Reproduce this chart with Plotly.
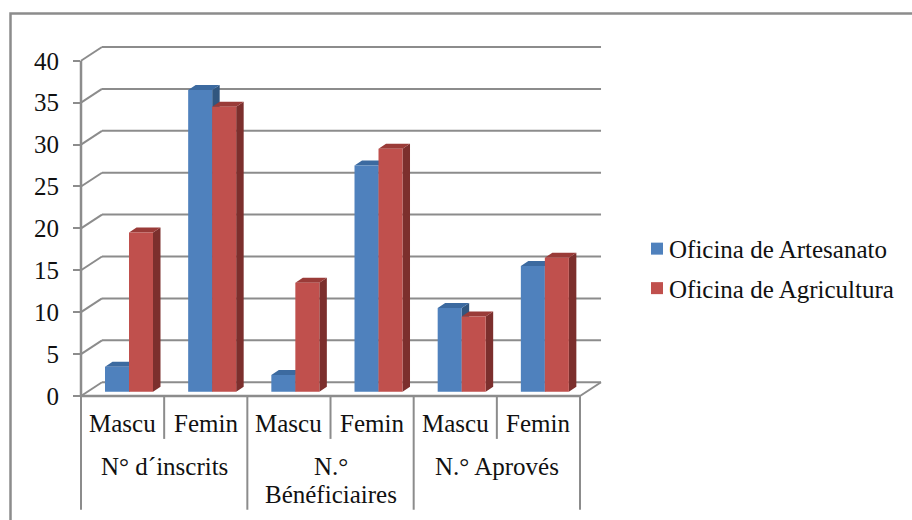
import plotly.graph_objects as go

# ---- data ----
groups = ["N° d´inscrits", "N.°<br>Bénéficiaires", "N.° Aprovés"]
subcats = ["Mascu", "Femin", "Mascu", "Femin", "Mascu", "Femin"]
artesanato = [3, 36, 2, 27, 10, 15]
agricultura = [19, 34, 13, 29, 9, 16]
y_ticks = [0, 5, 10, 15, 20, 25, 30, 35, 40]

# ---- geometry (pixels of the 912x520 frame) ----
W, H = 912, 520
L, R, B, T = 81.0, 602.0, 396.5, 46.7
CAT_PX, UNIT_PX = 83.17, 8.4
x_max = (R - L) / CAT_PX
y_max = (B - T) / UNIT_PX
n = len(subcats)
WALL_DX, WALL_DY = 21 / CAT_PX, 13.8 / UNIT_PX       # depth of chart box
BAR_DX, BAR_DY = 7.5 / CAT_PX, 5 / UNIT_PX           # depth of a bar
BAR_W = 24 / CAT_PX
BAR_X0 = 24 / CAT_PX
BAR_BASE = 4.2 / UNIT_PX

GRAY = "#8c8c8c"
FONT = "Liberation Serif"
FS = 25


def px(v):
    return (v - L) / (R - L)


def py(v):
    return (B - v) / (B - T)


def fx(v):
    return v / x_max


def fy(v):
    return v / y_max


def seg(x0, y0, x1, y1, width=2):
    return dict(type="line", xref="paper", yref="paper", x0=x0, y0=y0, x1=x1, y1=y1,
                line=dict(color=GRAY, width=width), layer="below")


shapes = [dict(type="rect", xref="paper", yref="paper", x0=px(10.5), y0=py(540), x1=px(940), y1=py(13),
               line=dict(color=GRAY, width=2.5), layer="below")]
# horizontal grid on the wall with slanted side wall, from the tick values
for t in y_ticks:
    shapes.append(seg(fx(0), fy(t), fx(WALL_DX), fy(t + WALL_DY)))
    shapes.append(seg(fx(WALL_DX), fy(t + WALL_DY), fx(n + WALL_DX), fy(t + WALL_DY)))
# axis lines and floor
shapes.append(seg(fx(0), fy(0), fx(0), fy(y_ticks[-1]), 2.5))
shapes.append(seg(fx(0), fy(0), fx(n), fy(0), 2.5))
shapes.append(seg(fx(n), fy(0), fx(n + WALL_DX), fy(WALL_DY)))
# multi-level category dividers
for i in range(n + 1):
    if i % 2 == 0:
        shapes.append(seg(fx(i), fy(0), fx(i), py(510.5), 2))
    else:
        shapes.append(seg(fx(i), fy(0), fx(i), py(439.5), 2))


def polys(series, offset, kind):
    xs, ys = [], []
    for i, v in enumerate(series):
        x0 = i + BAR_X0 + offset * BAR_W
        x1 = x0 + BAR_W
        b, t = BAR_BASE, BAR_BASE + v
        if kind == "front":
            px_, py_ = [x0, x1, x1, x0, x0], [b, b, t, t, b]
        elif kind == "top":
            px_ = [x0, x1, x1 + BAR_DX, x0 + BAR_DX, x0]
            py_ = [t, t, t + BAR_DY, t + BAR_DY, t]
        else:
            px_ = [x1, x1 + BAR_DX, x1 + BAR_DX, x1, x1]
            py_ = [b, b + BAR_DY, t + BAR_DY, t, b]
        xs += px_ + [None]
        ys += py_ + [None]
    return xs, ys


fig = go.Figure()
series = [("Oficina de Artesanato", artesanato, 0, "#4F81BD", "#3C6AA0", "#31567F"),
          ("Oficina de Agricultura", agricultura, 1, "#C0504D", "#9A3B38", "#7C2F2D")]
for name, vals, off, front, top, side in series:
    for kind, col in (("side", side), ("top", top), ("front", front)):
        xs, ys = polys(vals, off, kind)
        fig.add_trace(go.Scatter(x=xs, y=ys, mode="lines", fill="toself", fillcolor=col,
                                 line=dict(width=0, color=col), showlegend=False,
                                 hoverinfo="skip", cliponaxis=False))
    fig.add_trace(go.Scatter(x=[None], y=[None], mode="markers", name=name, legendgroup=name,
                             marker=dict(symbol="square", size=12, color=front)))

annotations = []
for i, s in enumerate(subcats):
    annotations.append(dict(xref="paper", yref="paper", x=fx(i + 0.5), y=py(424), text=s, showarrow=False,
                            xanchor="center", yanchor="middle", font=dict(family=FONT, size=FS, color="#111")))
for i, g in enumerate(groups):
    for k, line in enumerate(g.split("<br>")):
        annotations.append(dict(xref="paper", yref="paper", x=fx(2 * i + 1), y=py(467 + 28 * k), text=line,
                                showarrow=False, xanchor="center", yanchor="middle",
                                font=dict(family=FONT, size=FS, color="#111")))

fig.update_layout(
    width=W, height=H, autosize=False,
    margin=dict(l=L, r=W - R, t=T, b=H - B, pad=0),
    paper_bgcolor="white", plot_bgcolor="white",
    shapes=shapes, annotations=annotations,
    xaxis=dict(range=[0, x_max], visible=False, fixedrange=True),
    yaxis=dict(range=[0, y_max], tickmode="array", tickvals=y_ticks, ticktext=[str(t) for t in y_ticks],
               ticks="outside", ticklen=7, tickwidth=2, tickcolor=GRAY, showgrid=False, zeroline=False,
               showline=False, ticklabelstandoff=9, tickfont=dict(family=FONT, size=FS, color="#111"),
               fixedrange=True),
    legend=dict(xref="paper", yref="paper", x=px(629), y=py(226), xanchor="left", yanchor="top",
                font=dict(family=FONT, size=FS, color="#111"), tracegroupgap=4,
                itemwidth=30, bgcolor="rgba(0,0,0,0)", borderwidth=0),
    showlegend=True,
)

fig.write_html("out.html", config={"displayModeBar": False},
               post_script="document.body.style.margin='0';document.body.style.overflow='hidden';"
                           "document.querySelectorAll('.legend .legendsymbols').forEach(function(g){"
                           "g.setAttribute('transform','translate(8,0)');});")
